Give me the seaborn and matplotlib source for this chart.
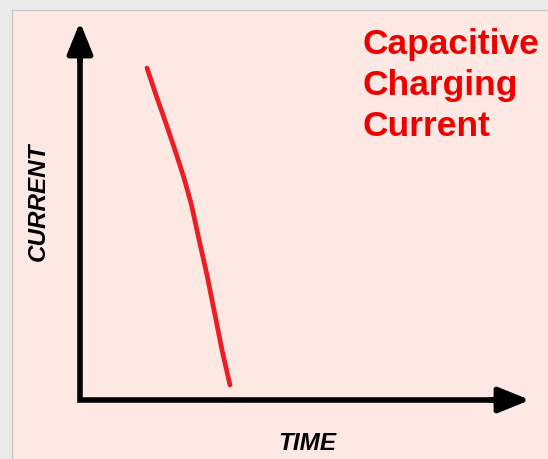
import pandas as pd
import matplotlib.pyplot as plt
import seaborn as sns

# curve (time, current) in arbitrary units, origin at the axes corner
time = [67, 76, 85.5, 95, 104, 111.5, 118, 127, 135, 142, 150]
current = [332, 305, 278, 250, 222, 195, 165, 125, 85, 50, 15]

title_lines = ["Capacitive", "Charging", "Current"]
x_label = "TIME"
y_label = "CURRENT"

curve = pd.DataFrame({"time": time, "current": current})

sns.set_theme(style="white")
plt.rcParams['font.family'] = ['Liberation Sans', 'DejaVu Sans']

fig = plt.figure(figsize=(5.48, 4.59), dpi=100)
fig.patch.set_facecolor("#ebebeb")
ax = fig.add_axes([12 / 548, 0, 536 / 548, 449 / 459])
ax.set_facecolor("#fde8e4")

sns.lineplot(data=curve, x="time", y="current", ax=ax, color="#ee1c25",
             linewidth=3.4, sort=False, solid_capstyle="round",
             solid_joinstyle="round")

# axis lines with a square corner, then the arrow heads
x_end, y_end = 450, 378
ax.plot([0, 0, x_end - 10], [y_end - 10, 0, 0], color="black", lw=4,
        solid_joinstyle="miter", solid_capstyle="butt")
arrow_style = dict(arrowstyle="-|>,head_length=0.42,head_width=0.17",
                   mutation_scale=45, lw=4, color="black",
                   shrinkA=0, shrinkB=0)
ax.annotate("", xy=(x_end, 0), xytext=(x_end - 40, 0), arrowprops=arrow_style)
ax.annotate("", xy=(0, y_end), xytext=(0, y_end - 40), arrowprops=arrow_style)

ax.text(282, 372, "\n".join(title_lines), color="#ee0000", fontsize=25.5,
        fontweight="bold", ha="left", va="top", linespacing=1.31)
ax.text(227, -44, x_label, fontsize=17.5, fontweight="bold", style="italic",
        ha="center", va="center", color="black")
ax.text(-42, 198, y_label, fontsize=17.5, fontweight="bold", style="italic",
        ha="center", va="center", rotation=90, color="black")

ax.set_xlim(-68, 468)
ax.set_ylim(-59, 390)
ax.set_xlabel("")
ax.set_ylabel("")
ax.set_xticks([])
ax.set_yticks([])
for side in ["right", "bottom"]:
    ax.spines[side].set_visible(False)
for side in ["top", "left"]:
    ax.spines[side].set_color("#c4c4c4")
    ax.spines[side].set_linewidth(0.8)

fig.savefig("out.png", dpi=100, facecolor=fig.get_facecolor())
